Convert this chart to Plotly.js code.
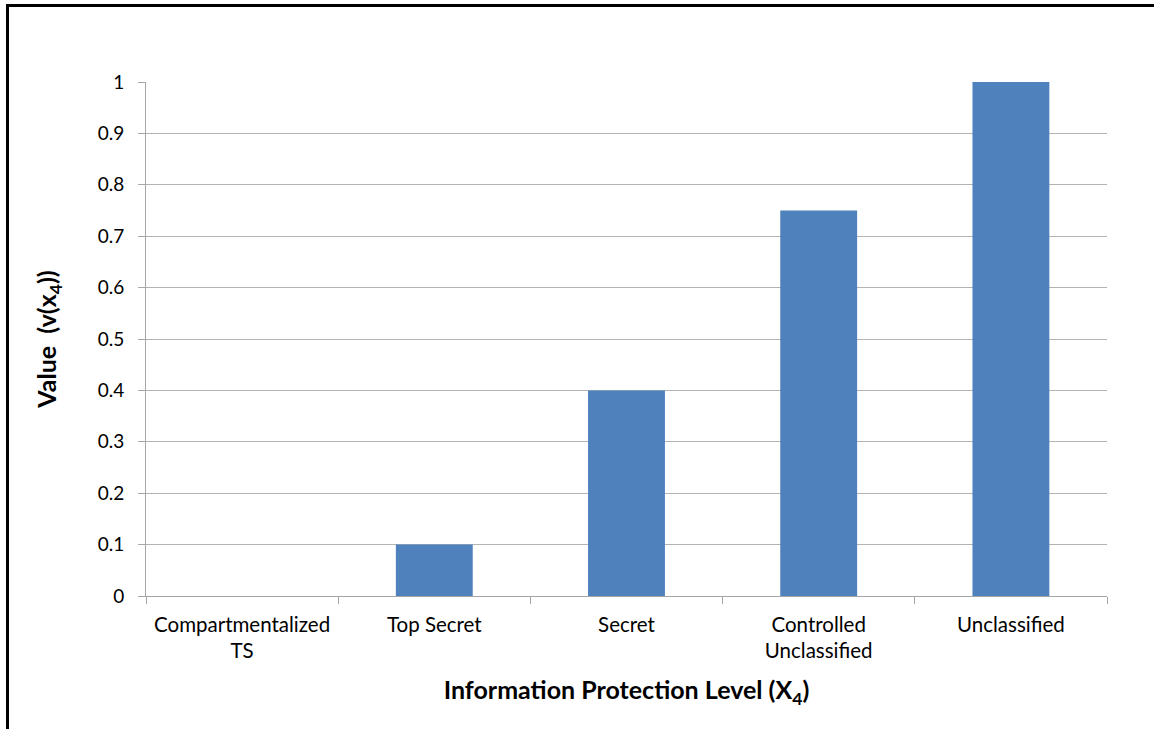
<!DOCTYPE html>
<html>
<head>
<meta charset="utf-8">
<script src="https://cdn.plot.ly/plotly-3.0.1.min.js"></script>
<style>
  html, body { margin: 0; padding: 0; background: #fff; }
  #wrap { position: relative; width: 1154px; height: 729px; overflow: hidden; }
  #frame { position: absolute; left: 6px; top: 4px; width: 1200px; height: 800px;
           border-left: 3px solid #000; border-top: 3px solid #000; box-sizing: border-box; pointer-events: none; z-index: 5; }
  #chart { position: absolute; left: 0; top: 0; width: 1154px; height: 729px; }
</style>
</head>
<body>
<div id="wrap">
  <div id="chart"></div>
  <div id="frame"></div>
</div>
<script>
const categories = ["Compartmentalized<br>TS", "Top Secret", "Secret", "Controlled<br>Unclassified", "Unclassified"];
const values = [0, 0.1, 0.4, 0.75, 1];
const yTickVals = [0, 0.1, 0.2, 0.3, 0.4, 0.5, 0.6, 0.7, 0.8, 0.9, 1];
const yTickText = ["0", "0.1", "0.2", "0.3", "0.4", "0.5", "0.6", "0.7", "0.8", "0.9", "1"];

const font = "Lato, 'Open Sans', sans-serif";

Plotly.newPlot("chart", [{
  type: "bar",
  x: categories,
  y: values,
  marker: { color: "#4f81bd", line: { width: 0 } },
  hoverinfo: "none"
}], {
  width: 1154, height: 729,
  margin: { l: 146, r: 47, t: 82, b: 133 },
  paper_bgcolor: "#fff", plot_bgcolor: "#fff",
  bargap: 0.6,
  showlegend: false,
  font: { family: font, color: "#000", size: 20 },
  xaxis: {
    type: "category",
    tickson: "boundaries",
    ticks: "outside", ticklen: 7, tickcolor: "#a6a6a6", tickwidth: 1,
    ticklabelstandoff: 10,
    showline: true, linecolor: "#a6a6a6", linewidth: 1,
    showgrid: false,
    tickfont: { size: 20.5, family: font },
    title: { text: "<b>Information Protection Level (X<sub>4</sub>)</b>", font: { size: 25, family: font }, standoff: 20 }
  },
  yaxis: {
    range: [0, 1],
    tickvals: yTickVals, ticktext: yTickText,
    ticks: "outside", ticklen: 7, tickcolor: "#a6a6a6", tickwidth: 1,
    ticklabelstandoff: 10,
    showline: true, linecolor: "#a6a6a6", linewidth: 1,
    showgrid: true, gridcolor: "#b3b3b3", gridwidth: 1,
    zeroline: false,
    tickfont: { size: 19, family: font },
    title: { text: "<b>Value  (v(x<sub>4</sub>))</b>", font: { size: 25, family: font }, standoff: 33 }
  }
}, { displayModeBar: false, staticPlot: true });
</script>
</body>
</html>
